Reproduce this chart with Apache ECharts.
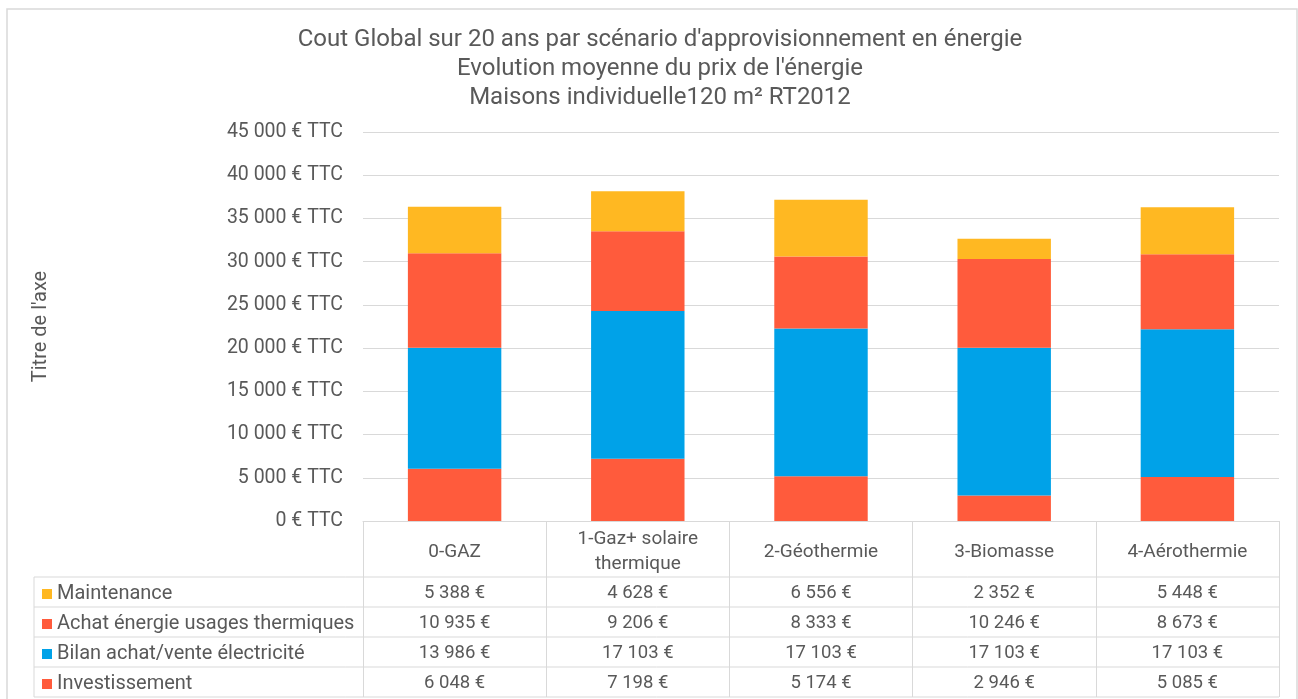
<!DOCTYPE html>
<html>
<head>
<meta charset="utf-8">
<script src="https://cdn.jsdelivr.net/npm/echarts@6/dist/echarts.min.js"></script>
<style>
  html, body { margin: 0; padding: 0; background: #fff; }
  #chart { width: 1298px; height: 699px; }
</style>
</head>
<body>
<div id="chart"></div>
<script>
// données
const categories = ['0-GAZ', '1-Gaz+ solaire\nthermique', '2-Géothermie', '3-Biomasse', '4-Aérothermie'];
const investissement = [6048, 7198, 5174, 2946, 5085];
const bilanElec = [13986, 17103, 17103, 17103, 17103];
const achatEnergie = [10935, 9206, 8333, 10246, 8673];
const maintenance = [5388, 4628, 6556, 2352, 5448];
const yTicks = [0, 5000, 10000, 15000, 20000, 25000, 30000, 35000, 40000, 45000];

const FONT = 'Roboto';
const GREY = '#595959';
const LINE = '#d9d9d9';

// lignes du tableau de données, du haut vers le bas
const tableRows = [
  { name: 'Maintenance', values: maintenance, color: '#ffb822' },
  { name: 'Achat énergie usages thermiques', values: achatEnergie, color: '#ff5b3c' },
  { name: 'Bilan achat/vente électricité', values: bilanElec, color: '#00a2e8' },
  { name: 'Investissement', values: investissement, color: '#ff5b3c' }
];

function fmt(v) {
  return String(v).replace(/\B(?=(\d{3})+(?!\d))/g, ' ');
}

const myChart = echarts.init(document.getElementById('chart'));

// ordre d'empilement : du bas vers le haut
const stackOrder = [tableRows[3], tableRows[2], tableRows[1], tableRows[0]];

myChart.setOption({
  animation: false,
  textStyle: { fontFamily: FONT },
  title: {
    text: "Cout Global sur 20 ans par scénario d'approvisionnement en énergie\nEvolution moyenne du prix de l'énergie\nMaisons individuelle120 m² RT2012",
    left: 655,
    textAlign: 'center',
    top: 20,
    textStyle: { fontFamily: FONT, fontSize: 24, fontWeight: 'normal', color: GREY, lineHeight: 29 }
  },
  legend: {
    data: tableRows.map(r => r.name),
    orient: 'vertical',
    left: 42,
    top: 584,
    padding: 0,
    itemWidth: 10,
    itemHeight: 10,
    itemGap: 10,
    icon: 'rect',
    selectedMode: false,
    textStyle: { fontFamily: FONT, fontSize: 20, color: GREY, lineHeight: 20 }
  },
  grid: { left: 363, right: 19, top: 132, bottom: 178 },
  xAxis: {
    type: 'category',
    data: categories,
    axisLine: { lineStyle: { color: LINE } },
    axisTick: { show: true, interval: 0, length: 176, lineStyle: { color: LINE } },
    axisLabel: {
      interval: 0, margin: 31, verticalAlign: 'middle',
      fontFamily: FONT, fontSize: 19, color: GREY, lineHeight: 25
    }
  },
  yAxis: {
    type: 'value',
    min: yTicks[0],
    max: yTicks[yTicks.length - 1],
    interval: yTicks[1] - yTicks[0],
    name: "Titre de l'axe",
    nameLocation: 'middle',
    nameRotate: 90,
    nameGap: 312,
    nameTextStyle: { fontFamily: FONT, fontSize: 20, color: GREY },
    axisLine: { show: false },
    axisTick: { show: false },
    splitLine: { lineStyle: { color: LINE } },
    axisLabel: { margin: 20, fontFamily: FONT, fontSize: 19.5, color: GREY, formatter: v => fmt(v) + ' € TTC' }
  },
  series: stackOrder.map(r => ({
    name: r.name,
    type: 'bar',
    stack: 'total',
    barWidth: '51%',
    data: r.values,
    itemStyle: { color: r.color }
  }))
});

// tableau de données sous l'axe
const rowTops = [577, 607, 637, 667];
const rowH = 30;
const tableLeft = 34;
const plotRight = myChart.convertToPixel({ xAxisIndex: 0 }, categories.length - 1) + 183.2 / 2;

const graphics = [];
// cadre du graphique
graphics.push({
  type: 'rect', shape: { x: 7, y: 9, width: 1290, height: 692 },
  style: { fill: 'none', stroke: LINE, lineWidth: 1.5 }, silent: true
});
rowTops.concat([rowTops[3] + rowH]).forEach(y => {
  graphics.push({
    type: 'line', shape: { x1: tableLeft, y1: y, x2: plotRight, y2: y },
    style: { stroke: LINE, lineWidth: 1 }, silent: true
  });
});
graphics.push({
  type: 'line', shape: { x1: tableLeft, y1: rowTops[0], x2: tableLeft, y2: rowTops[3] + rowH },
  style: { stroke: LINE, lineWidth: 1 }, silent: true
});
tableRows.forEach((r, ri) => {
  r.values.forEach((v, ci) => {
    const x = myChart.convertToPixel({ xAxisIndex: 0 }, ci);
    graphics.push({
      type: 'text', x: x, y: rowTops[ri] + rowH / 2 + 1, silent: true,
      style: {
        text: fmt(v) + ' €', align: 'center', verticalAlign: 'middle',
        fontFamily: FONT, fontSize: 18.5, fill: GREY
      }
    });
  });
});
myChart.setOption({ graphic: graphics });
</script>
</body>
</html>
